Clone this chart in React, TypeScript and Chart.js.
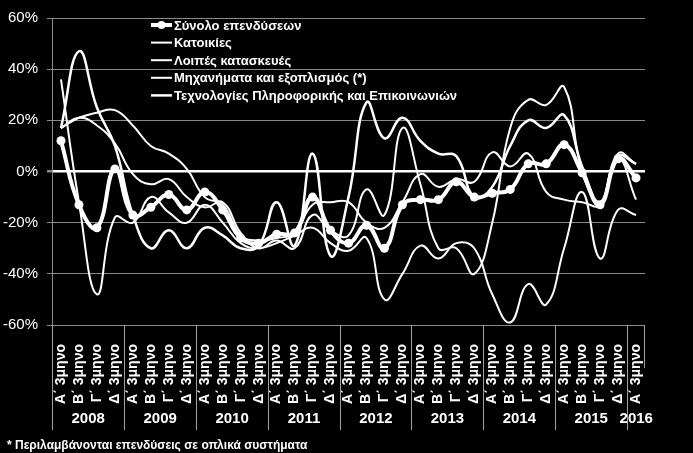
import React, { useEffect, useRef } from 'react';
import { Chart, registerables } from 'chart.js';

Chart.register(...registerables);

// ---- data ----
const years = ['2008', '2009', '2010', '2011', '2012', '2013', '2014', '2015', '2016'];
const quartersPerYear = [4, 4, 4, 4, 4, 4, 4, 4, 1];
const quarterNames = ['Α΄ 3μηνο', 'Β΄ 3μηνο', 'Γ΄ 3μηνο', 'Δ΄ 3μηνο'];
const yTickValues = [-60, -40, -20, 0, 20, 40, 60];

const totalInvestment = [12, -13, -22, 1, -17, -14, -9, -15, -8, -15, -26, -28, -24.5, -24, -10, -23, -28, -21, -30, -13, -11, -11, -4, -10, -8.5, -7, 3, 3, 10.5, -0.5, -13, 5, -2.5];
const housing = [36, -12, -48, -18, -20, -10, -16, -20, -13, -20, -28, -30, -28, -25, -22, -28, -31, -26, -50, -40, -29, -34, -28, -30, -48, -59, -44, -52, -30, -8, -34, -15, -17];
const otherConstruction = [17, 21, 23, 24, 18, 10, 7, 1, -10, -13, -25, -27, -26, -24, -13, -12, -12, -20, -22, -12, -1, -6, -3, -4, 7.5, 2, 7, -8, -11, -12, -13, 5, -11];
const machinery = [17, 21, 18, 11, -1, -5, -3, -10, -14, -12, -24, -30, -27, -30, -17, -23, -25, -7, -17, 17, -5, -30, -30, -40, -20, 17, 28, 26, 33, 0, -12, 7, 3];
const ict = [17, 47, 25, 10, -17, -30, -23, -30, -22, -25, -30, -29, -12, -29, 7, -33, -10, 27, 13, 21, 12, 7, 6, -10, -6, 10, 20, 17, 22, 2, -12, 6, 3];

const seriesNames = [
  'Σύνολο επενδύσεων',
  'Κατοικίες',
  'Λοιπές κατασκευές',
  'Μηχανήματα και εξοπλισμός (*)',
  'Τεχνολογίες Πληροφορικής και Επικοινωνιών',
];
const footnote = '* Περιλαμβάνονται επενδύσεις σε οπλικά συστήματα';

const categories: string[] = [];
quartersPerYear.forEach((n) => {
  for (let q = 0; q < n; q++) categories.push(quarterNames[q]);
});

const FONT = "'Liberation Sans', Arial, sans-serif";
const GRID = '#8a8a8a';

const decorPlugin = {
  id: 'decor',
  afterDraw(chart: any) {
    const ctx = chart.ctx;
    const x = chart.scales.x;
    const area = chart.chartArea;
    const half = (x.getPixelForValue(1) - x.getPixelForValue(0)) / 2;
    ctx.save();
    // year separators + labels
    ctx.strokeStyle = '#a0a0a0';
    ctx.lineWidth = 1;
    ctx.fillStyle = '#fff';
    ctx.font = `bold 15px ${FONT}`;
    ctx.textAlign = 'center';
    ctx.textBaseline = 'middle';
    let start = 0;
    quartersPerYear.forEach((n, yi) => {
      const left = Math.round(x.getPixelForValue(start) - half) + 0.5;
      const right = x.getPixelForValue(start + n - 1) + half;
      ctx.beginPath();
      ctx.moveTo(left, area.bottom);
      ctx.lineTo(left, 430);
      ctx.stroke();
      ctx.fillText(years[yi], (left + right) / 2, 419);
      start += n;
    });
    const endX = Math.round(x.getPixelForValue(start - 1) + half) - 0.5;
    ctx.beginPath();
    ctx.moveTo(endX, area.bottom);
    ctx.lineTo(endX, 368);
    ctx.stroke();

    // footnote
    ctx.textAlign = 'left';
    ctx.font = `bold 12px ${FONT}`;
    ctx.fillText(footnote, 7, 446);

    // legend
    ctx.font = `bold 13px ${FONT}`;
    chart.data.datasets.forEach((ds: any, i: number) => {
      const y = 25 + i * 17.6;
      ctx.strokeStyle = '#fff';
      ctx.lineWidth = i === 0 ? 4 : ds.borderWidth;
      ctx.beginPath();
      ctx.moveTo(151, y);
      ctx.lineTo(172, y);
      ctx.stroke();
      if (i === 0) {
        ctx.beginPath();
        ctx.arc(161.5, y, 4, 0, Math.PI * 2);
        ctx.fill();
      }
      ctx.fillText(ds.label, 174, y + 1);
    });
    ctx.restore();
  },
};

export default function App() {
  const ref = useRef<HTMLCanvasElement | null>(null);
  useEffect(() => {
    document.body.style.margin = '0';
    document.body.style.background = '#000';
    const canvas = ref.current!;
    const lineDs = (label: string, data: number[], w: number, extra: any = {}) => ({
      label,
      data,
      borderColor: '#fff',
      backgroundColor: '#fff',
      borderWidth: w,
      pointRadius: 0,
      tension: 0.45,
      fill: false,
      ...extra,
    });
    const chart = new Chart(canvas, {
      type: 'line',
      data: {
        labels: categories,
        datasets: [
          lineDs(seriesNames[0], totalInvestment, 4, { pointRadius: 4.5, pointBorderWidth: 0, pointBackgroundColor: '#fff' }),
          lineDs(seriesNames[1], housing, 2),
          lineDs(seriesNames[2], otherConstruction, 2),
          lineDs(seriesNames[3], machinery, 2),
          lineDs(seriesNames[4], ict, 2.5),
        ],
      },
      options: {
        animation: false,
        responsive: false,
        maintainAspectRatio: false,
        layout: { padding: { top: 15, right: 48, left: 0, bottom: 0 } },
        plugins: { legend: { display: false }, tooltip: { enabled: false } },
        scales: {
          x: {
            type: 'category',
            offset: true,
            grid: { display: false },
            border: { display: false },
            ticks: {
              color: '#fff',
              font: { family: FONT, size: 14, weight: 'bold' },
              minRotation: 90,
              maxRotation: 90,
              autoSkip: false,
              padding: 11,
            },
            afterFit: (s: any) => {
              s.height = 128;
            },
          },
          y: {
            min: -60,
            max: 60,
            afterBuildTicks: (s: any) => {
              s.ticks = yTickValues.map((v) => ({ value: v }));
            },
            ticks: {
              color: '#fff',
              font: { family: FONT, size: 15 },
              padding: 9,
              callback: (v: any) => `${v}%`,
            },
            grid: {
              color: (c: any) => (c.tick && c.tick.value === 0 ? '#fff' : GRID),
              lineWidth: (c: any) => (c.tick && c.tick.value === 0 ? 2.5 : 1),
              tickLength: 5,
              tickColor: GRID,
            },
            border: { display: true, color: GRID, width: 1 },
            afterFit: (s: any) => {
              s.width = 52;
            },
          },
        },
      },
      plugins: [decorPlugin],
    } as any);
    return () => chart.destroy();
  }, []);
  return (
    <div style={{ width: 693, height: 453, background: '#000' }}>
      <canvas ref={ref} width={693} height={453} style={{ display: 'block' }} />
    </div>
  );
}
